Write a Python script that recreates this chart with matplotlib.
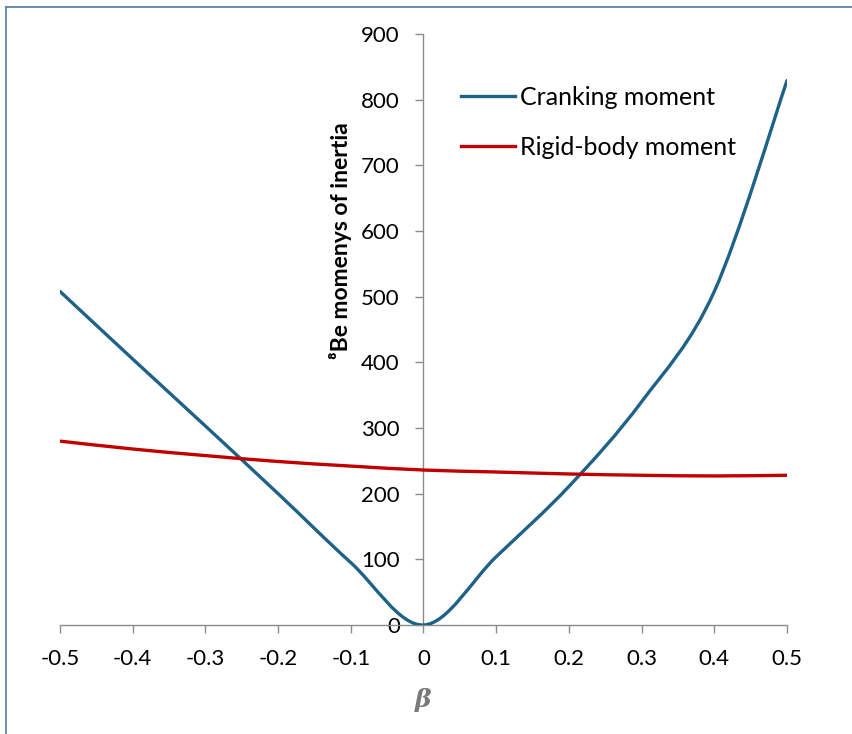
import numpy as np
import matplotlib
matplotlib.use("Agg")
import matplotlib.pyplot as plt
from matplotlib.path import Path
from matplotlib.patches import PathPatch
from matplotlib.lines import Line2D

beta = [-0.5, -0.4, -0.3, -0.2, -0.1, 0.0, 0.1, 0.2, 0.3, 0.4, 0.5]
cranking = [508, 405, 303, 200, 95, 0, 104, 211, 340, 508, 829]
rigid = [280, 268, 258, 249, 242, 236, 233, 230, 228, 227, 228]
series_names = ["Cranking moment", "Rigid-body moment"]
x_ticks = [-0.5, -0.4, -0.3, -0.2, -0.1, 0, 0.1, 0.2, 0.3, 0.4, 0.5]
x_tick_labels = ["-0.5", "-0.4", "-0.3", "-0.2", "-0.1", "0", "0.1", "0.2", "0.3", "0.4", "0.5"]
y_ticks = list(range(0, 901, 100))

plt.rcParams['font.family'] = ['Lato', 'DejaVu Sans']

W, H = 853, 734
fig = plt.figure(figsize=(W / 100, H / 100), dpi=100)
ax = fig.add_axes([60 / W, (H - 625) / H, 727 / W, 591 / H])


def smooth_path(xs, ys):
    # Excel-like smoothed line (Catmull-Rom as cubic Bezier)
    xs = np.asarray(xs, float)
    ys = np.asarray(ys, float)
    n = len(xs)
    verts = [(xs[0], ys[0])]
    codes = [Path.MOVETO]
    for i in range(n - 1):
        p0 = np.array([xs[max(i - 1, 0)], ys[max(i - 1, 0)]])
        p1 = np.array([xs[i], ys[i]])
        p2 = np.array([xs[i + 1], ys[i + 1]])
        p3 = np.array([xs[min(i + 2, n - 1)], ys[min(i + 2, n - 1)]])
        c1 = p1 + (p2 - p0) / 6.0
        c2 = p2 - (p3 - p1) / 6.0
        verts += [tuple(c1), tuple(c2), tuple(p2)]
        codes += [Path.CURVE4] * 3
    return Path(verts, codes)


blue = "#1f6287"
red = "#c00000"
for ys, col in [(cranking, blue), (rigid, red)]:
    patch = PathPatch(smooth_path(beta, ys), facecolor="none", edgecolor=col,
                      lw=2.4, capstyle="round", joinstyle="round", zorder=3)
    ax.add_patch(patch)

ax.set_xlim(-0.5, 0.5)
ax.set_ylim(0, 900)

for s in ["top", "right"]:
    ax.spines[s].set_visible(False)
ax.spines["left"].set_position(("data", 0))
ax.spines["bottom"].set_position(("data", 0))
axis_col = "#8c8c8c"
for s in ["left", "bottom"]:
    ax.spines[s].set_color(axis_col)
    ax.spines[s].set_linewidth(1.0)

ax.set_xticks(x_ticks)
ax.set_xticklabels(x_tick_labels)
ax.set_yticks(y_ticks)
ax.tick_params(axis="both", direction="out", length=6, width=1.0, color=axis_col,
               labelsize=16, labelcolor="black")
ax.tick_params(axis="x", pad=11)
ax.tick_params(axis="y", pad=11)

# legend
handles = [Line2D([], [], color=blue, lw=2.4), Line2D([], [], color=red, lw=2.4)]
leg = ax.legend(handles, series_names, loc="upper left",
                bbox_to_anchor=(461 / W, (H - 86) / H), bbox_transform=fig.transFigure,
                frameon=False, fontsize=18, handlelength=2.15, handletextpad=0.2,
                labelspacing=1.07, borderaxespad=0, borderpad=0)

# axis titles
fig.text(341 / W, (H - 241) / H, "\u2078Be momenys of inertia", rotation=90,
         ha="center", va="center", fontsize=16.5, fontweight="bold",
         family=['Lato', 'DejaVu Sans'])
fig.text(423 / W, (H - 700) / H, "\u03b2", ha="center", va="center", fontsize=18,
         fontweight="bold", fontstyle="italic", color="#7a7a7a", family="DejaVu Serif")

# outer border lines
border_col = "#5b86ab"
fig.add_artist(Line2D([6.5 / W, 6.5 / W], [0, (H - 7) / H], color=border_col, lw=1.3,
                      transform=fig.transFigure))
fig.add_artist(Line2D([6.5 / W, 1.0], [(H - 7) / H, (H - 7) / H], color=border_col, lw=1.3,
                      transform=fig.transFigure))

fig.savefig("out.png", dpi=100)
